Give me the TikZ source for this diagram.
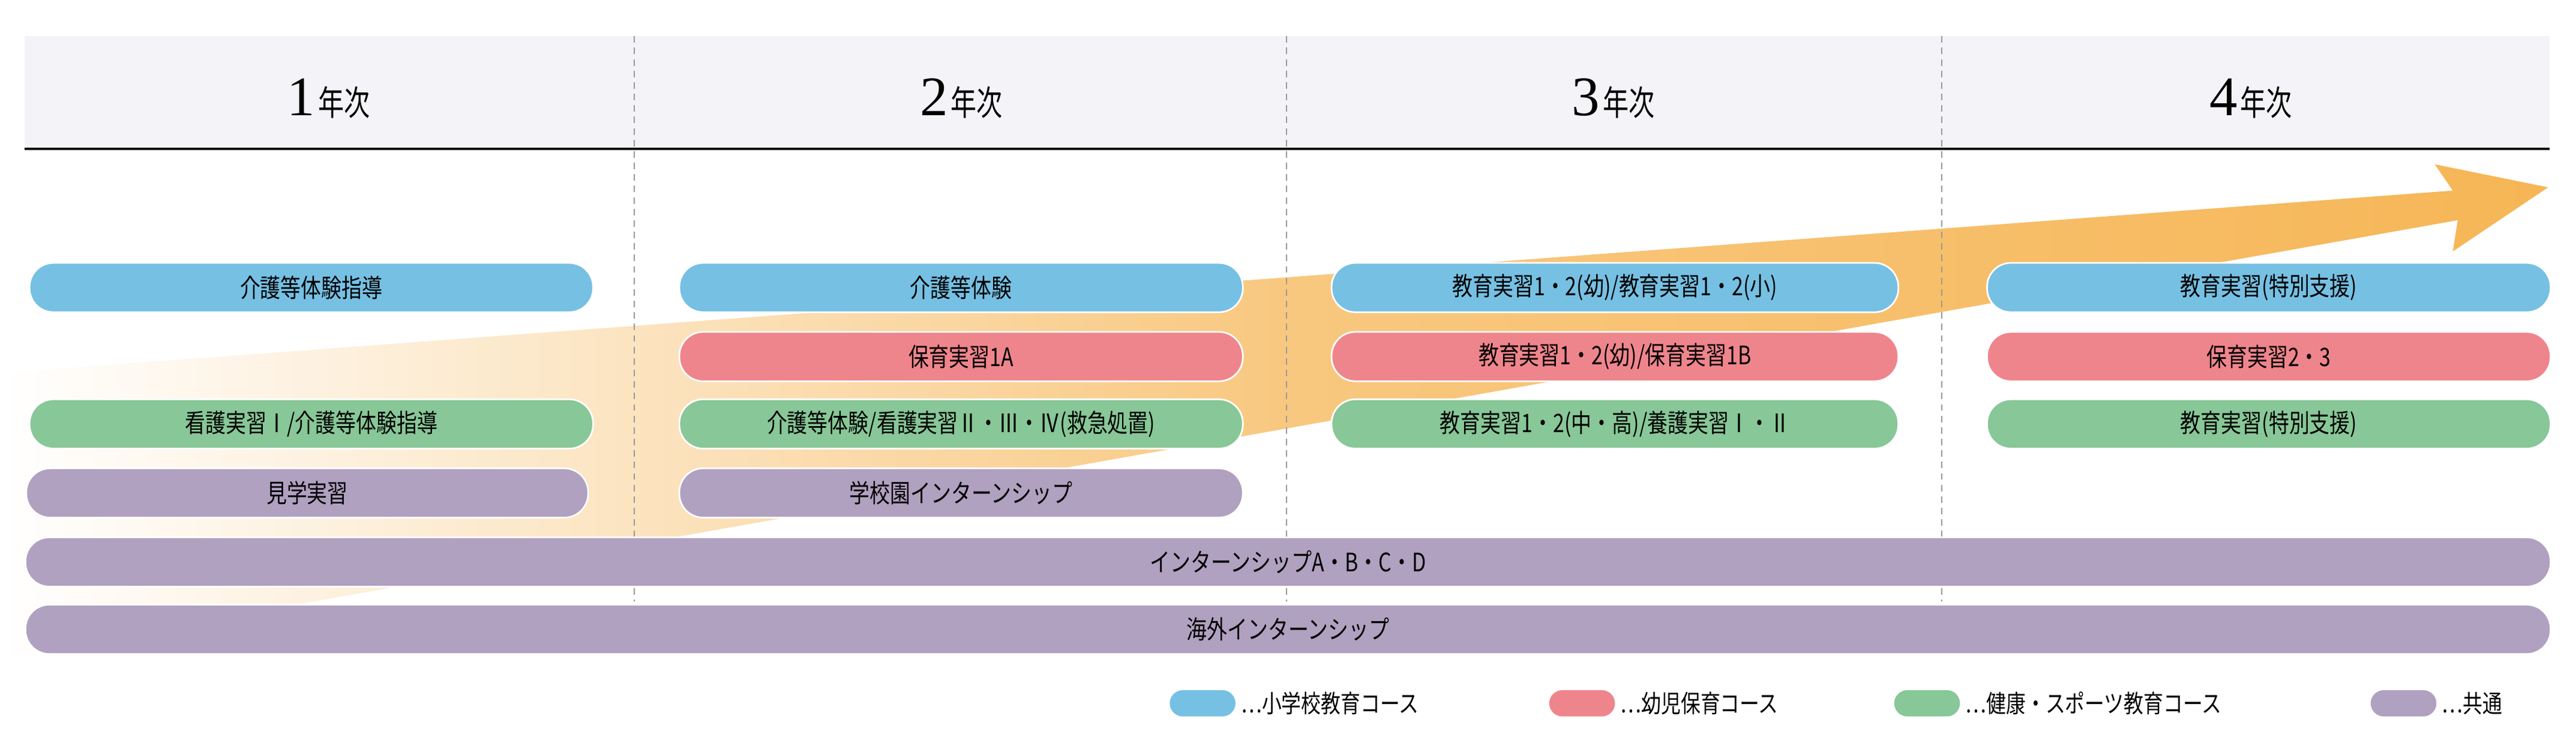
\documentclass[tikz,border=0pt]{standalone}
\usepackage{fontspec}
\newfontfamily\jp[FakeStretch=0.8]{Noto Sans CJK JP}
\newfontfamily\jph[FakeStretch=0.75]{Noto Sans CJK JP}
\newfontfamily\digit{Liberation Serif}
\usetikzlibrary{shadings}
\definecolor{cblue}{HTML}{76C0E3}
\definecolor{cpink}{HTML}{EF858C}
\definecolor{cgreen}{HTML}{88C797}
\definecolor{cpurple}{HTML}{B0A1C0}
\definecolor{corange}{HTML}{F6B656}
\definecolor{hdr}{HTML}{F3F3F8}
\tikzset{
  pill/.style={draw=white, line width=1pt, rounded corners=14.5pt, minimum height=30pt, inner sep=0pt, font=\jp\fontsize{15.5}{16}\selectfont, text=black},
  lpill/.style={rounded corners=8pt, minimum width=40pt, minimum height=16pt, inner sep=0pt},
  ltext/.style={anchor=west, inner sep=0pt, font=\jp\fontsize{15}{16}\selectfont},
  yeartitle/.style={inner sep=0pt},
  divider/.style={draw=gray!80, line width=0.6pt, dash pattern=on 4pt off 3pt}
}
\newcommand{\yr}[1]{{\digit\fontsize{34}{34}\selectfont #1}\,{\jph\fontsize{21}{21}\selectfont 年次}}
\begin{document}
\begin{tikzpicture}[x=1pt,y=-1pt]
\useasboundingbox (0,0) rectangle (1568,450);
\fill[hdr] (15,22) rectangle (1552,89);
\draw[black, line width=1.6pt] (15,90.5) -- (1552,90.5);
\node[yeartitle] (y1) at (200,60) {\yr{1}};
\node[yeartitle] (y2) at (585,60) {\yr{2}};
\node[yeartitle] (y3) at (982,60) {\yr{3}};
\node[yeartitle] (y4) at (1370,60) {\yr{4}};
% arrow
\shade[left color=white, right color=corange, middle color=corange!75!white]
  (0,227) -- (1493,116) -- (1482,100) -- (1551,114) -- (1493,153) -- (1496,134) -- (0,400) -- cycle;
% dividers
\coordinate (d1t) at (386,22); \coordinate (d1b) at (386,366);
\coordinate (d2t) at (783,22); \coordinate (d2b) at (783,366);
\coordinate (d3t) at (1182,22); \coordinate (d3b) at (1182,366);
\draw[divider] (d1t) -- (d1b);
\draw[divider] (d2t) -- (d2b);
\draw[divider] (d3t) -- (d3b);
% column 1
\node[pill, fill=cblue, minimum width=343pt] (a1) at (189.5,175) {介護等体験指導};
\node[pill, fill=cgreen, minimum width=343pt] (a3) at (189.5,258) {看護実習Ⅰ/介護等体験指導};
\node[pill, fill=cpurple, minimum width=342pt] (a4) at (187,300) {見学実習};
% column 2
\node[pill, fill=cblue, minimum width=343pt] (b1) at (585,175) {介護等体験};
\node[pill, fill=cpink, minimum width=343pt] (b2) at (585,217) {保育実習1A};
\node[pill, fill=cgreen, minimum width=343pt] (b3) at (585,258) {介護等体験/看護実習Ⅱ・Ⅲ・Ⅳ(救急処置)};
\node[pill, fill=cpurple, minimum width=343pt] (b4) at (585,300) {学校園インターンシップ};
% column 3
\node[pill, fill=cblue, minimum width=345pt] (c1) at (983,175) {教育実習1・2(幼)/教育実習1・2(小)};
\node[pill, fill=cpink, minimum width=345pt] (c2) at (983,217) {教育実習1・2(幼)/保育実習1B};
\node[pill, fill=cgreen, minimum width=345pt] (c3) at (983,258) {教育実習1・2(中・高)/養護実習Ⅰ・Ⅱ};
% column 4
\node[pill, fill=cblue, minimum width=343pt] (e1) at (1381,175) {教育実習(特別支援)};
\node[pill, fill=cpink, minimum width=343pt] (e2) at (1381,217) {保育実習2・3};
\node[pill, fill=cgreen, minimum width=343pt] (e3) at (1381,258) {教育実習(特別支援)};
% full rows
\node[pill, fill=cpurple, minimum width=1537pt] (f1) at (784,342) {インターンシップA・B・C・D};
\node[pill, fill=cpurple, minimum width=1537pt] (f2) at (784,383) {海外インターンシップ};
% legend
\node[lpill, fill=cblue] (l1) at (732,428) {};
\node[ltext] (t1) at ([xshift=3pt]l1.east) {…小学校教育コース};
\node[lpill, fill=cpink] (l2) at (963,428) {};
\node[ltext] (t2) at ([xshift=3pt]l2.east) {…幼児保育コース};
\node[lpill, fill=cgreen] (l3) at (1173,428) {};
\node[ltext] (t3) at ([xshift=3pt]l3.east) {…健康・スポーツ教育コース};
\node[lpill, fill=cpurple] (l4) at (1463,428) {};
\node[ltext] (t4) at ([xshift=3pt]l4.east) {…共通};
\end{tikzpicture}
\end{document}
